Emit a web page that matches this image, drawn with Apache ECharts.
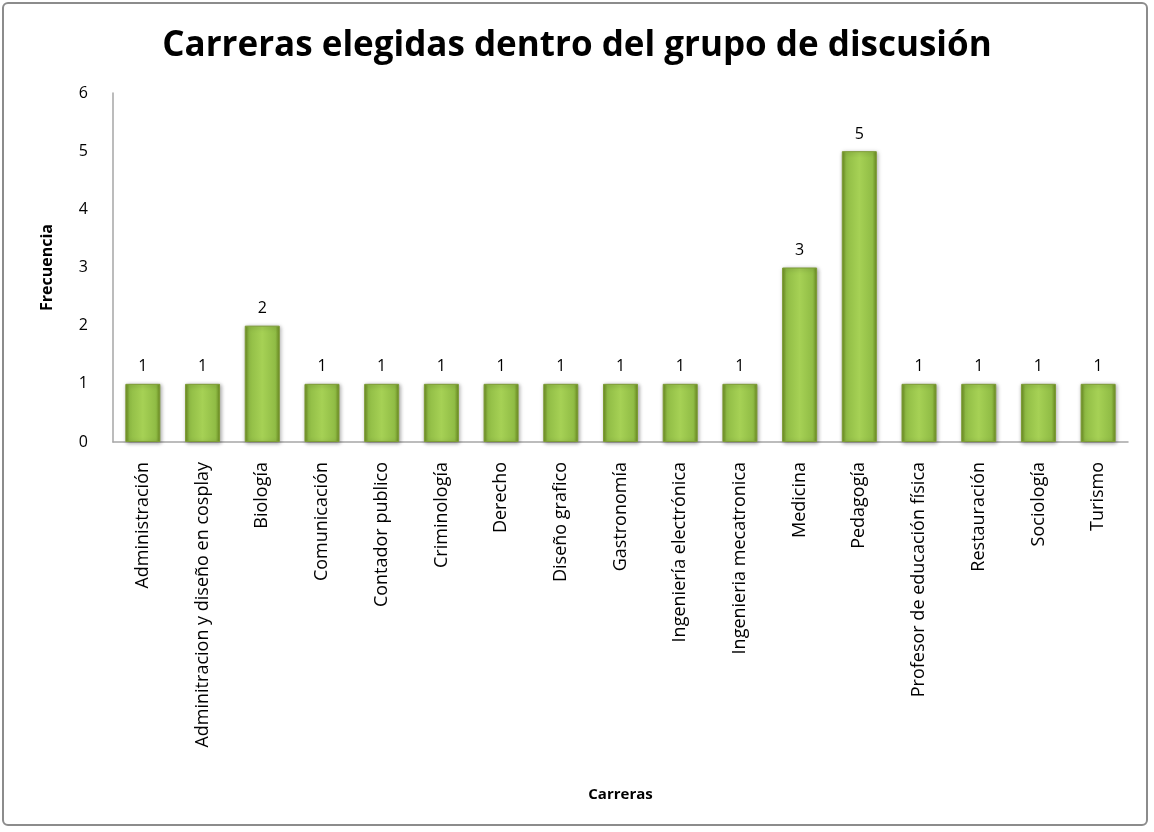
<!DOCTYPE html>
<html>
<head>
<meta charset="utf-8">
<script src="https://cdn.jsdelivr.net/npm/echarts@6/dist/echarts.min.js"></script>
<style>
  html, body { margin: 0; padding: 0; background: #fff; }
  .frame {
    position: absolute; left: 2px; top: 2px; width: 1146px; height: 824px;
    border: 2px solid #8c8c8c; border-radius: 6px; box-sizing: border-box;
  }
  #chart { position: absolute; left: 0; top: 0; width: 1154px; height: 832px; }
</style>
</head>
<body>
<div class="frame"></div>
<div id="chart"></div>
<script>
// datos
var categorias = [
  "Administración",
  "Adminitracion y diseño en cosplay",
  "Biología",
  "Comunicación",
  "Contador publico",
  "Criminología",
  "Derecho",
  "Diseño grafico",
  "Gastronomía",
  "Ingeniería electrónica",
  "Ingenieria mecatronica",
  "Medicina",
  "Pedagogía",
  "Profesor de educación física",
  "Restauración",
  "Sociología",
  "Turismo"
];
var frecuencia = [1, 1, 2, 1, 1, 1, 1, 1, 1, 1, 1, 3, 5, 1, 1, 1, 1];
var ticksY = [0, 1, 2, 3, 4, 5, 6];

var fuente = "Open Sans";

var chart = echarts.init(document.getElementById("chart"));
var option = {
  animation: false,
  title: {
    text: "Carreras elegidas dentro del grupo de discusión",
    left: "center",
    top: 24,
    textStyle: { fontFamily: fuente, fontSize: 35, fontWeight: "bold", color: "#000" }
  },
  grid: { left: 113, right: 26, top: 93, bottom: 390, containLabel: false },
  xAxis: {
    type: "category",
    data: categorias,
    name: "Carreras",
    nameLocation: "middle",
    nameGap: 345,
    nameTextStyle: { fontFamily: fuente, fontSize: 15, fontWeight: "bold", color: "#000" },
    axisLine: { lineStyle: { color: "#a6a6a6", width: 1.5 } },
    axisTick: { show: false },
    axisLabel: {
      rotate: 90, interval: 0, margin: 20,
      fontFamily: fuente, fontSize: 18, color: "#000"
    }
  },
  yAxis: {
    type: "value",
    min: ticksY[0],
    max: ticksY[ticksY.length - 1],
    interval: 1,
    name: "Frecuencia",
    nameLocation: "middle",
    nameGap: 58,
    nameTextStyle: { fontFamily: fuente, fontSize: 16, fontWeight: "bold", color: "#000" },
    axisLine: { show: true, lineStyle: { color: "#a6a6a6", width: 1.5 } },
    axisTick: { show: false },
    splitLine: { show: false },
    axisLabel: { margin: 25, fontFamily: fuente, fontSize: 16, color: "#000" }
  },
  series: [{
    type: "bar",
    data: frecuencia,
    barWidth: 35,
    label: {
      show: true, position: "top", distance: 9,
      fontFamily: fuente, fontSize: 16, color: "#000"
    },
    itemStyle: {
      color: new echarts.graphic.LinearGradient(0, 0, 1, 0, [
        { offset: 0, color: "#6a8a1f" },
        { offset: 0.12, color: "#90bc45" },
        { offset: 0.5, color: "#a6d155" },
        { offset: 0.88, color: "#90bc45" },
        { offset: 1, color: "#6a8a1f" }
      ]),
      borderColor: "#7d9c36",
      borderWidth: 1,
      shadowColor: "rgba(0,0,0,0.35)",
      shadowBlur: 4,
      shadowOffsetX: 1,
      shadowOffsetY: 1
    }
  }]
};
chart.setOption(option);
</script>
</body>
</html>
